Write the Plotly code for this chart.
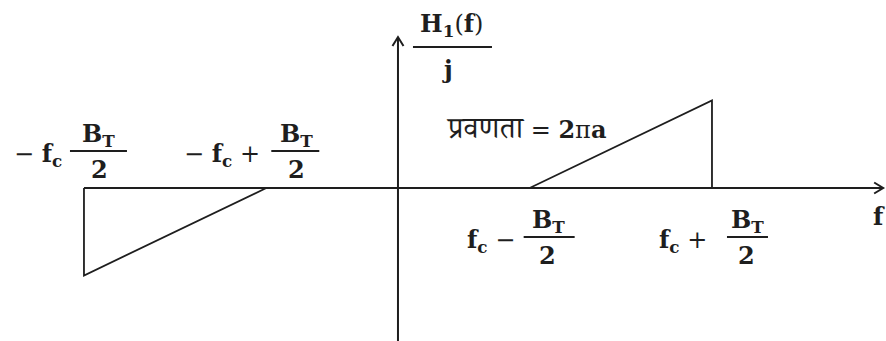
import plotly.graph_objects as go

# ---- data (in f units, H1(f)/j units) ----
fc = 2.2          # carrier frequency
BT = 1.8          # transmission bandwidth
peak = 1.0        # H1/j at f = fc + BT/2  (slope 2*pi*a times BT)

left_f = [-fc - BT / 2, -fc - BT / 2, -fc + BT / 2]
left_h = [0.0, -peak, 0.0]
right_f = [fc - BT / 2, fc + BT / 2, fc + BT / 2]
right_h = [0.0, peak, 0.0]

x_range = [-3.929, 4.818]
y_range = [-1.749, 2.149]
y_axis_top = 1.725
x_axis_end = 4.79

INK = "#1e1e1e"
FONT = "DejaVu Serif, Noto Serif Devanagari, Noto Sans Devanagari, serif"
FS = 24

FC = "<b>f</b><sub><b>c</b></sub>"
BTXT = "<b>B</b><sub><b>T</b></sub>"
TWO = "<b>2</b>"

fig = go.Figure()
fig.add_trace(go.Scatter(x=left_f, y=left_h, mode="lines",
                         line=dict(color=INK, width=1.8), hoverinfo="skip"))
fig.add_trace(go.Scatter(x=right_f, y=right_h, mode="lines",
                         line=dict(color=INK, width=1.8), hoverinfo="skip"))

# axes drawn as lines with open chevron arrow heads
fig.add_shape(type="line", xref="x", yref="y", x0=left_f[0], x1=x_axis_end,
              y0=0, y1=0, line=dict(color=INK, width=2))
fig.add_shape(type="line", xref="x", yref="y", x0=0, x1=0,
              y0=y_range[0], y1=y_axis_top, line=dict(color=INK, width=2))
fig.add_shape(type="path", xref="x", yref="y", xsizemode="pixel",
              ysizemode="pixel", xanchor=x_axis_end, yanchor=0,
              path="M -9,5.5 L 0,0 L -9,-5.5", line=dict(color=INK, width=2))
fig.add_shape(type="path", xref="x", yref="y", xsizemode="pixel",
              ysizemode="pixel", xanchor=0, yanchor=y_axis_top,
              path="M -5.5,-9 L 0,0 L 5.5,-9", line=dict(color=INK, width=2))


def txt(xv, dx, dy, text, size=FS, yv=0.0):
    fig.add_annotation(x=xv, y=yv, xref="x", yref="y", xshift=dx, yshift=dy,
                       text=text, showarrow=False,
                       font=dict(family=FONT, size=size, color=INK),
                       xanchor="center", yanchor="middle")


def bar(xv, dx0, dx1, dy, yv=0.0):
    fig.add_shape(type="line", xref="x", yref="y",
                  xsizemode="pixel", ysizemode="pixel",
                  xanchor=xv, yanchor=yv,
                  x0=dx0, x1=dx1, y0=dy, y1=dy,
                  line=dict(color=INK, width=1.8))


# -fc - BT/2  (printed as "-fc BT/2")
a = -fc - BT / 2
txt(a, -46, 33, "− " + FC)
bar(a, -14, 43, 37)
txt(a, 15, 53, BTXT)
txt(a, 16, 19, TWO)

# -fc + BT/2
a = -fc + BT / 2
txt(a, -44, 33, "− " + FC + " +")
bar(a, 5, 53, 37)
txt(a, 30, 53, BTXT)
txt(a, 30, 19, TWO)

# fc - BT/2
a = fc - BT / 2
txt(a, -39, -53, FC + " −")
bar(a, -6, 45, -49)
txt(a, 19, -33, BTXT)
txt(a, 18, -67, TWO)

# fc + BT/2
a = fc + BT / 2
txt(a, -29, -53, FC + " +")
bar(a, 15, 56, -49)
txt(a, 36, -33, BTXT)
txt(a, 35, -67, TWO)

# axis label f
txt(x_range[1], -7, -28, "<b>f</b>")

# y axis label H1(f)/j
txt(0, 54, 163, "<b>H</b><sub><b>1</b></sub>(<b>f</b>)", yv=0)
bar(0, 15, 94, 141)
txt(0, 50, 119, "<b>j</b>")

# slope annotation
txt(0, 128, 61, "<span style='font-size:30px'>प्रवणता</span> = <b>2</b>π<b>a</b>")

fig.update_layout(
    width=886, height=341, autosize=False,
    margin=dict(l=0, r=0, t=0, b=0),
    paper_bgcolor="white", plot_bgcolor="white",
    showlegend=False,
    xaxis=dict(range=x_range, visible=False, fixedrange=True),
    yaxis=dict(range=y_range, visible=False, fixedrange=True),
)

fig.write_html("out.html",
               config={"displayModeBar": False, "staticPlot": True},
               post_script="document.body.style.margin='0';"
                           "document.body.style.overflow='hidden';")
